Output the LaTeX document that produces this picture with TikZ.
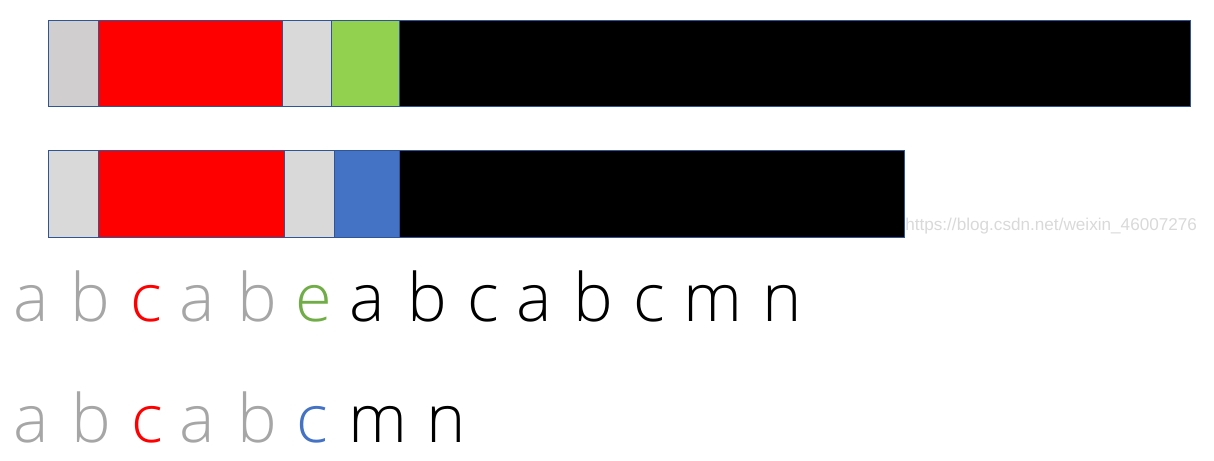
\documentclass[tikz,border=0pt]{standalone}
\usepackage{fontspec}
\usepackage{tikz}
\newfontfamily\letterfont{Open Sans Light}
\newfontfamily\markfont{Liberation Sans}
\definecolor{barline}{HTML}{2F5597}
\definecolor{cellgraydk}{HTML}{D0CECE}
\definecolor{cellgray}{HTML}{D9D9D9}
\definecolor{cellgreen}{HTML}{92D050}
\definecolor{cellblue}{HTML}{4472C4}
\definecolor{lettergray}{HTML}{A6A6A6}
\definecolor{lettergreen}{HTML}{70AD47}
\definecolor{markgray}{HTML}{D9D9D9}

\begin{document}
\begin{tikzpicture}[x=1cm,y=1cm,line width=.35pt,
  seg/.style={draw=barline,line width=.7pt},
  letter/.style={anchor=base,inner sep=0pt,font=\letterfont\fontsize{47.5}{57}\selectfont}]
\useasboundingbox (0,0) rectangle (30.3500,11.5250);
% upper bar
\filldraw[seg,fill=cellgraydk] (1.2000,8.8575) rectangle (2.4625,11.0075);
\filldraw[seg,fill=red] (2.4625,8.8575) rectangle (7.0625,11.0075);
\filldraw[seg,fill=cellgray] (7.0625,8.8575) rectangle (8.2925,11.0075);
\filldraw[seg,fill=cellgreen] (8.2925,8.8575) rectangle (9.9750,11.0075);
\filldraw[seg,fill=black] (9.9750,8.8575) rectangle (29.7500,11.0075);
% lower bar
\filldraw[seg,fill=cellgray] (1.2000,5.5925) rectangle (2.4625,7.7575);
\filldraw[seg,fill=red] (2.4625,5.5925) rectangle (7.1175,7.7575);
\filldraw[seg,fill=cellgray] (7.1175,5.5925) rectangle (8.3675,7.7575);
\filldraw[seg,fill=cellblue] (8.3675,5.5925) rectangle (9.9825,7.7575);
\filldraw[seg,fill=black] (9.9825,5.5925) rectangle (22.6000,7.7575);
\node[anchor=base west,inner sep=0pt,text=markgray,font=\markfont\fontsize{12.2}{14}\selectfont] (mark) at (22.6250,5.7625) {https://blog.csdn.net/weixin\_46007276};
% first string
\node[letter,text=lettergray] (s1) at (0.7750,3.4825) {a};
\node[letter,text=lettergray] (s2) at (2.2500,3.4825) {b};
\node[letter,text=red] (s3) at (3.6500,3.4825) {c};
\node[letter,text=lettergray] (s4) at (4.9250,3.4825) {a};
\node[letter,text=lettergray] (s5) at (6.4250,3.4825) {b};
\node[letter,text=lettergreen] (s6) at (7.8500,3.4825) {e};
\node[letter] (s7) at (9.1750,3.4825) {a};
\node[letter] (s8) at (10.6750,3.4825) {b};
\node[letter] (s9) at (12.0750,3.4825) {c};
\node[letter] (s10) at (13.3500,3.4825) {a};
\node[letter] (s11) at (14.8250,3.4825) {b};
\node[letter] (s12) at (16.2250,3.4825) {c};
\node[letter] (s13) at (17.8250,3.4825) {m};
\node[letter] (s14) at (19.5500,3.4825) {n};
% second string
\node[letter,text=lettergray] (p1) at (0.7750,0.4500) {a};
\node[letter,text=lettergray] (p2) at (2.2750,0.4500) {b};
\node[letter,text=red] (p3) at (3.6750,0.4500) {c};
\node[letter,text=lettergray] (p4) at (4.9250,0.4500) {a};
\node[letter,text=lettergray] (p5) at (6.4250,0.4500) {b};
\node[letter,text=cellblue] (p6) at (7.8000,0.4500) {c};
\node[letter] (p7) at (9.4500,0.4500) {m};
\node[letter] (p8) at (11.1500,0.4500) {n};
\end{tikzpicture}
\end{document}
